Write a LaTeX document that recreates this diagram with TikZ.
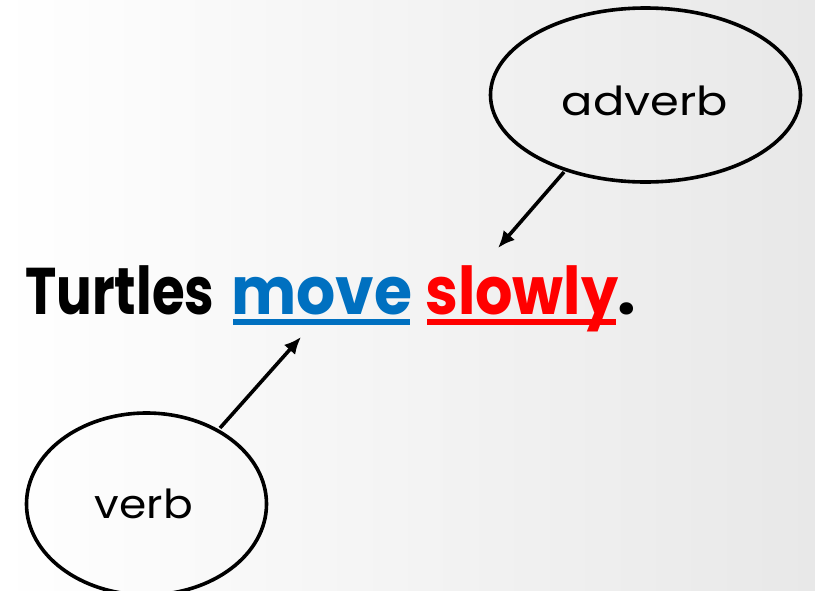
\documentclass[tikz,border=0pt]{standalone}
\usepackage{graphicx}
\usepackage{fontspec}
\setmainfont{Poppins}
\usetikzlibrary{shapes.geometric,arrows.meta}
\definecolor{wblue}{HTML}{0070C0}
\definecolor{wred}{HTML}{FF0000}
\definecolor{bgright}{HTML}{E8E8E8}
\newcommand{\fitw}[2]{\resizebox{#1}{\height}{#2}}
\tikzset{
  bubble/.style={draw=black, line width=3.6pt, ellipse, inner sep=0pt},
  bubbletext/.style={font=\fontsize{40}{42}\selectfont, inner sep=0pt},
  word/.style={font=\fontsize{66}{70}\selectfont\bfseries, inner sep=0pt, anchor=base west},
  pointer/.style={line width=3.6pt, -{Latex[length=17pt,width=15pt]}},
  uline/.style={line width=6pt}
}
\begin{document}
\begin{tikzpicture}[x=1pt,y=-1pt]
\shade[left color=white, right color=bgright] (0,0) rectangle (815,590);
\useasboundingbox (0,0) rectangle (815,590);
% bubbles
\node[bubble, minimum width=310pt, minimum height=174pt] (adv) at (645.5,95) {};
\node[bubbletext, anchor=base] (advt) at (645,115) {\fitw{166pt}{adverb}};
\node[bubble, minimum width=240pt, minimum height=182pt] (verb) at (146.5,504) {};
\node[bubbletext, anchor=base] (verbt) at (144,518) {\fitw{98pt}{verb}};
% sentence
\node[word] (w1) at (25,314) {\fitw{189pt}{Turtles}};
\node[word, text=wblue] (w2) at (231,314) {\fitw{181pt}{move}};
\node[word, text=wred] (w3) at (425,314) {\fitw{193pt}{slowly}};
\node[word] (w4) at (617,314) {.};
% underlines
\coordinate (u2a) at (233,322); \coordinate (u2b) at (410,322);
\coordinate (u3a) at (427,322); \coordinate (u3b) at (616,322);
\draw[uline, wblue] (u2a) -- (u2b);
\draw[uline, wred] (u3a) -- (u3b);
% arrows
\coordinate (advs) at (564,172);
\coordinate (advtip) at (498,248);
\coordinate (verbs) at (220,428);
\coordinate (verbtip) at (301,337);
\draw[pointer] (advs) -- (advtip);
\draw[pointer] (verbs) -- (verbtip);
\end{tikzpicture}
\end{document}
